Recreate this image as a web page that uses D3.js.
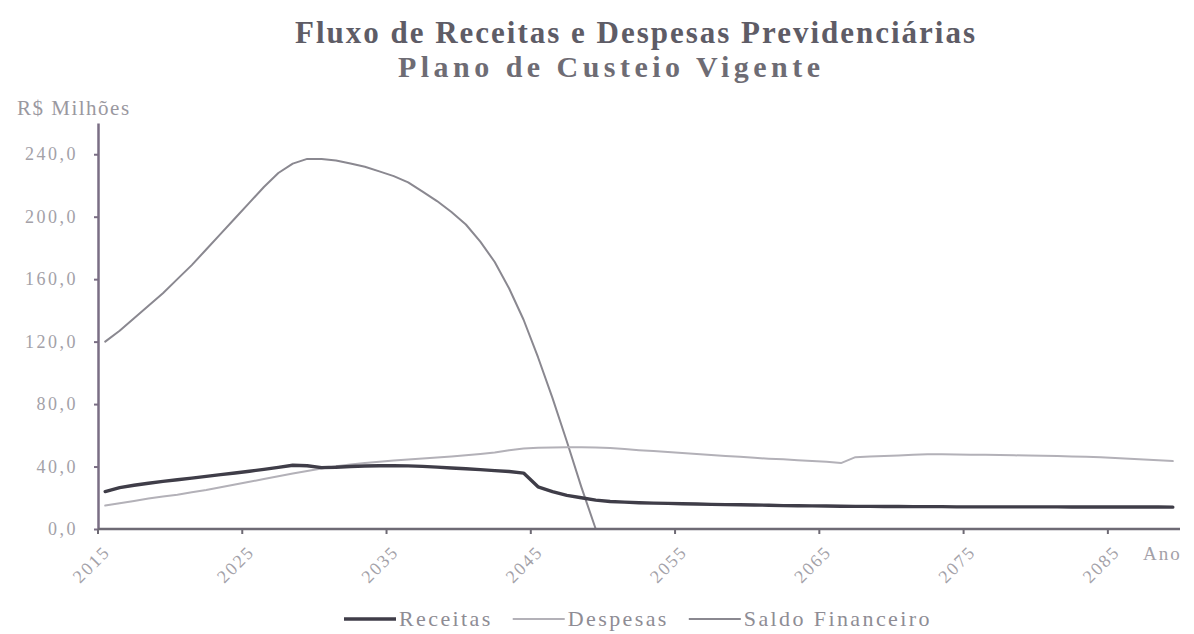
<!DOCTYPE html>
<html><head><meta charset="utf-8">
<script src="https://cdn.jsdelivr.net/npm/d3@7"></script>
<style>
html,body{margin:0;padding:0;background:#fff;}
svg{display:block;font-family:"Liberation Serif","Times New Roman",serif;}
</style></head>
<body>
<svg id="chart" width="1194" height="634"></svg>
<script>
const years = d3.range(2015, 2090);
const receitas = [24.0,26.5,28.0,29.3,30.5,31.5,32.6,33.7,34.8,35.9,37.0,38.2,39.5,40.8,40.5,39.3,39.5,40.0,40.3,40.5,40.6,40.4,40.1,39.6,39.1,38.6,38.0,37.4,36.8,35.8,27.0,24.0,21.5,20.0,18.5,17.6,17.2,16.8,16.6,16.4,16.2,16.0,15.8,15.6,15.5,15.4,15.2,15.0,14.9,14.8,14.7,14.6,14.5,14.5,14.4,14.4,14.3,14.3,14.3,14.2,14.2,14.2,14.2,14.2,14.2,14.2,14.2,14.1,14.1,14.1,14.1,14.1,14.1,14.1,14.0];
const despesas = [15.0,16.5,18.0,19.5,20.8,22.0,23.5,25.0,26.8,28.5,30.2,32.0,33.8,35.6,37.2,38.8,40.2,41.3,42.2,43.0,43.8,44.5,45.2,45.8,46.5,47.2,48.0,49.0,50.5,51.5,52.0,52.2,52.3,52.3,52.2,51.8,51.2,50.5,49.9,49.3,48.7,48.0,47.4,46.8,46.2,45.6,45.0,44.6,44.1,43.6,43.0,42.2,46.0,46.5,46.8,47.1,47.5,47.9,47.8,47.7,47.6,47.5,47.4,47.2,47.0,46.9,46.7,46.5,46.2,45.9,45.5,45.0,44.5,44.0,43.5];
const saldo = [120,127,135,143,151,160,169,179,189,199,209,219,228,234,237,237,236,234,232,229,226,222,216,210,203,195,184,171,154,134,110,84,56,27,0,0,0,0,0,0,0,0,0,0,0,0,0,0,0,0,0,0,0,0,0,0,0,0,0,0,0,0,0,0,0,0,0,0,0,0,0,0,0,0,0];
const yTicks = [0,40,80,120,160,200,240];
const xLabelYears = [2015,2025,2035,2045,2055,2065,2075,2085];
const seriesNames = ["Receitas","Despesas","Saldo Financeiro"];
const seriesColors = ["#3f3d48","#b3b1b8","#8a8890"];
const seriesWidths = [3.4,2,2];

const svg = d3.select("#chart");
const left = 98, right = 1180, bottom = 529;
const x = d3.scaleBand().domain(years).range([left, right]).padding(0);
const bw = x.bandwidth();
const cx = d => x(d) + bw/2;
const y = d3.scaleLinear().domain([0,260]).range([bottom, 123]);
const fmt = v => d3.format(".1f")(v).replace(".", ",");

// titles
svg.append("text").attr("x", 635).attr("y", 43).attr("text-anchor","middle")
  .attr("font-size",31).attr("font-weight","bold").attr("fill","#5e5c66")
  .attr("textLength",680).attr("lengthAdjust","spacing")
  .text("Fluxo de Receitas e Despesas Previdenciárias");
svg.append("text").attr("x", 609).attr("y", 77).attr("text-anchor","middle")
  .attr("font-size",30).attr("font-weight","bold").attr("fill","#6e6c74")
  .attr("textLength",422).attr("lengthAdjust","spacing")
  .text("Plano de Custeio Vigente");
svg.append("text").attr("x", 17).attr("y", 115)
  .attr("font-size",21).attr("fill","#9a98a0").attr("letter-spacing",1.5)
  .text("R$ Milhões");

// y axis
const yAxis = d3.axisLeft(y).tickValues(yTicks).tickFormat(fmt).tickSize(4).tickSizeOuter(0);
const gy = svg.append("g").attr("transform",`translate(${left},0)`).call(yAxis);
gy.select(".domain").attr("stroke","#7a6e84").attr("stroke-width",2.5);
gy.selectAll(".tick line").attr("stroke","#7a6e84").attr("stroke-width",2);
gy.selectAll(".tick text").attr("x",-20).attr("font-family","Liberation Serif")
  .attr("font-size",18).attr("fill","#a3a1a8").attr("letter-spacing",2.5);

// lines
const lineGen = d3.line().x((d,i) => cx(years[i])).y(d => y(d));
const data = [receitas, despesas, saldo];
[2,1,0].forEach(k => {
  svg.append("path").datum(data[k]).attr("d", lineGen)
    .attr("fill","none").attr("stroke",seriesColors[k]).attr("stroke-width",seriesWidths[k])
    .attr("stroke-linejoin","round").attr("stroke-linecap","round");
});

// x axis
svg.append("line").attr("x1",left).attr("x2",right).attr("y1",y(0)).attr("y2",y(0))
  .attr("stroke","#6e6a74").attr("stroke-width",2.5);
svg.selectAll(".xtick").data(xLabelYears).enter().append("line")
  .attr("x1",d=>x(d)).attr("x2",d=>x(d)).attr("y1",y(0)).attr("y2",y(0)+5)
  .attr("stroke","#6e6a74").attr("stroke-width",2);
svg.selectAll(".xlab").data(xLabelYears).enter().append("text")
  .attr("transform",d=>`translate(${cx(d)+6},${y(0)+24}) rotate(-45)`)
  .attr("text-anchor","end").attr("font-size",18).attr("fill","#a3a1a8").attr("letter-spacing",2)
  .text(d=>d);
svg.append("text").attr("x",1143).attr("y",560).attr("font-size",19)
  .attr("fill","#a3a1a8").attr("letter-spacing",2).text("Ano");

// legend
const lg = svg.append("g");
let lx = 344;
seriesNames.forEach((n,k) => {
  lg.append("line").attr("x1",lx).attr("x2",lx+52).attr("y1",619).attr("y2",619)
    .attr("stroke",seriesColors[k]).attr("stroke-width",seriesWidths[k]);
  const t = lg.append("text").attr("x",lx+55).attr("y",626).attr("font-size",22)
    .attr("fill","#8e8c94").attr("letter-spacing",2.4).text(n);
  lx += 55 + t.node().getComputedTextLength() + 20;
});
</script>
</body></html>
